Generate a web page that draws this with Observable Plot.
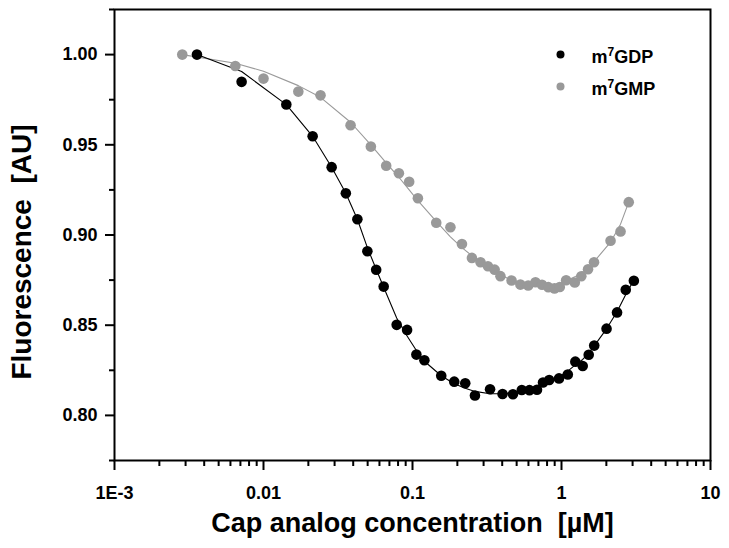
<!DOCTYPE html>
<html>
<head>
<meta charset="utf-8">
<script src="https://cdn.jsdelivr.net/npm/d3@7"></script>
<script src="https://cdn.jsdelivr.net/npm/@observablehq/plot@0.6"></script>
<style>
  html, body { margin: 0; padding: 0; background: white; }
</style>
</head>
<body>
<div id="chart"></div>
<script>
// m7GDP (black)
const gdpX = [0.003576, 0.00713, 0.01423, 0.02137, 0.02867, 0.0357, 0.04266, 0.04979, 0.05704, 0.06406,
  0.07831, 0.09198, 0.1062, 0.1202, 0.1559, 0.1906, 0.2259, 0.2625, 0.3315, 0.4021,
  0.4723, 0.5414, 0.6097, 0.6846, 0.7513, 0.827, 0.962, 1.102, 1.238, 1.388,
  1.523, 1.658, 2.006, 2.359, 2.699, 3.06];
const gdpY = [1.000, 0.9849, 0.9723, 0.9547, 0.9376, 0.9231, 0.9087, 0.8910, 0.8807, 0.8714,
  0.8502, 0.8474, 0.8337, 0.8306, 0.8220, 0.8187, 0.8178, 0.8110, 0.8145, 0.8119,
  0.8117, 0.8141, 0.8140, 0.8142, 0.8182, 0.8196, 0.8205, 0.8227, 0.8298, 0.8274,
  0.8336, 0.8387, 0.8481, 0.8571, 0.8696, 0.8746];
const gdpFit = [1.000, 0.9906, 0.9723, 0.9547, 0.9376, 0.9231, 0.9087, 0.8930, 0.8810, 0.8710,
  0.8540, 0.8440, 0.8360, 0.8300, 0.8220, 0.8175, 0.8150, 0.8133, 0.8120, 0.8120,
  0.8125, 0.8135, 0.8147, 0.8160, 0.8175, 0.8190, 0.8215, 0.8245, 0.8280, 0.8310,
  0.8345, 0.8385, 0.8480, 0.8575, 0.8670, 0.8750];

// m7GMP (gray)
const gmpX = [0.00285, 0.00647, 0.0100, 0.01713, 0.02414, 0.03839, 0.05255, 0.06659, 0.08105, 0.09501,
  0.1087, 0.1443, 0.1797, 0.2147, 0.2505, 0.2862, 0.3209, 0.3559, 0.3893, 0.4622,
  0.5297, 0.5976, 0.6688, 0.7398, 0.8155, 0.8974, 0.9741, 1.074, 1.228, 1.358,
  1.507, 1.653, 2.134, 2.490, 2.827];
const gmpY = [1.000, 0.9937, 0.9867, 0.9795, 0.9774, 0.9608, 0.9490, 0.9384, 0.9342, 0.9295,
  0.9204, 0.9068, 0.9043, 0.8950, 0.8873, 0.8849, 0.8827, 0.8808, 0.8772, 0.8748,
  0.8725, 0.8720, 0.8738, 0.8724, 0.8711, 0.8704, 0.8712, 0.8749, 0.8737, 0.8771,
  0.8810, 0.8849, 0.8968, 0.9020, 0.9182];
const gmpFit = [1.000, 0.9952, 0.9908, 0.9828, 0.9763, 0.9625, 0.9500, 0.9400, 0.9320, 0.9250,
  0.9190, 0.9075, 0.8990, 0.8930, 0.8885, 0.8850, 0.8820, 0.8795, 0.8778, 0.8750,
  0.8733, 0.8722, 0.8716, 0.8715, 0.8718, 0.8724, 0.8732, 0.8745, 0.8768, 0.8790,
  0.8820, 0.8852, 0.8960, 0.9060, 0.9182];

// axes
const xTicks = [0.001, 0.01, 0.1, 1, 10];
const xTickLabels = ["1E-3", "0.01", "0.1", "1", "10"];
const yTicks = [0.80, 0.85, 0.90, 0.95, 1.00];
const yTickLabels = ["0.80", "0.85", "0.90", "0.95", "1.00"];
const yMinorTicks = [0.775, 0.825, 0.875, 0.925, 0.975, 1.025];
const xLabel = "Cap analog concentration\u00a0 [\u00b5M]";
const yLabel = "Fluorescence\u00a0 [AU]";

// legend
const legendItems = [
  {pre: "m", sup: "7", post: "GDP", color: "#000000"},
  {pre: "m", sup: "7", post: "GMP", color: "#999999"}
];

const xMinorTicks = [];
for (const dec of [0.001, 0.01, 0.1, 1]) for (let k = 2; k <= 9; k++) xMinorTicks.push(dec * k);

const gdp = gdpX.map((x, i) => ({x, y: gdpY[i], fit: gdpFit[i]}));
const gmp = gmpX.map((x, i) => ({x, y: gmpY[i], fit: gmpFit[i]}));
const xTickTable = xTicks.map((v, i) => ({v, label: xTickLabels[i]}));
const yTickTable = yTicks.map((v, i) => ({v, label: yTickLabels[i]}));

const FONT = "'Liberation Sans', Arial, Helvetica, sans-serif";

const chart = Plot.plot({
  width: 729,
  height: 548,
  marginLeft: 114,
  marginRight: 19,
  marginTop: 9,
  marginBottom: 88,
  style: {fontFamily: FONT, background: "white", color: "black"},
  x: {type: "log", domain: [0.001, 10]},
  y: {domain: [0.775, 1.025]},
  marks: [
    Plot.axisX({ticks: xMinorTicks, tickSize: 6, strokeWidth: 2, tickFormat: () => "", label: null}),
    Plot.axisX({ticks: xTicks, tickSize: 10, strokeWidth: 2, tickFormat: () => "", label: null}),
    Plot.axisY({ticks: yMinorTicks, tickSize: 5, strokeWidth: 2, tickFormat: () => "", label: null}),
    Plot.axisY({ticks: yTicks, tickSize: 9, strokeWidth: 2, tickFormat: () => "", label: null}),
    // tick labels
    Plot.text(xTickTable, {x: "v", frameAnchor: "bottom", dy: 26, lineAnchor: "top", textAnchor: "middle",
      text: "label", fontSize: 18, fontWeight: "bold", fill: "black"}),
    Plot.text(yTickTable, {y: "v", frameAnchor: "left", dx: -17, lineAnchor: "middle", textAnchor: "end",
      text: "label", fontSize: 18, fontWeight: "bold", fill: "black"}),
    Plot.frame({stroke: "black", strokeWidth: 2}),
    Plot.line(gmp, {x: "x", y: "fit", stroke: "#9a9a9a", strokeWidth: 1.1}),
    Plot.line(gdp, {x: "x", y: "fit", stroke: "black", strokeWidth: 1.1}),
    Plot.dot(gmp, {x: "x", y: "y", r: 5.3, fill: "#999999"}),
    Plot.dot(gdp, {x: "x", y: "y", r: 5.3, fill: "black"}),
    // legend
    ...legendItems.flatMap((item, i) => [
      Plot.dot([item], {frameAnchor: "top-right", dx: -150, dy: 45 + 32 * i, r: 4, fill: d => d.color}),
      Plot.text([item], {frameAnchor: "top-right", dx: -119, dy: 47.3 + 32 * i, textAnchor: "start",
        lineAnchor: "middle", text: d => d.pre + d.sup + d.post, fontSize: 18, fontWeight: "bold",
        fill: "black", className: "legend-label"})
    ]),
    // axis titles
    Plot.text([xLabel], {frameAnchor: "bottom", dy: 63, lineAnchor: "middle", textAnchor: "middle",
      text: d => d, fontSize: 27, fontWeight: "bold", fill: "black"}),
    Plot.text([yLabel], {frameAnchor: "left", dx: -92, dy: 17, rotate: -90, lineAnchor: "middle",
      textAnchor: "middle", text: d => d, fontSize: 28, fontWeight: "bold", fill: "black"})
  ]
});

// superscripts in the legend
d3.select(chart).selectAll(".legend-label text").each(function(d, i) {
  const t = d3.select(this);
  const item = legendItems[i];
  t.text(null);
  t.append("tspan").text(item.pre);
  t.append("tspan").attr("dy", -7).attr("font-size", 12).text(item.sup);
  t.append("tspan").attr("dy", 7).text(item.post);
});

document.getElementById("chart").appendChild(chart);
</script>
</body>
</html>
